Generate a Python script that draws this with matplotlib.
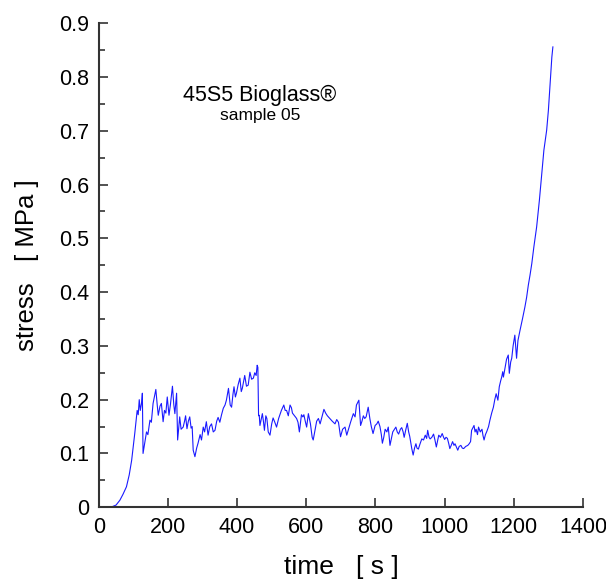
"""Stress vs time trace for a 45S5 Bioglass sample"""
import matplotlib
matplotlib.use('Agg')
import matplotlib.pyplot as plt
from matplotlib.ticker import MultipleLocator, FuncFormatter

plt.rcParams['font.family'] = ['Liberation Sans', 'DejaVu Sans']

# values
time_s = [0, 35, 50, 61, 70, 80, 88, 95, 104, 111, 114, 117, 120, 124, 126, 128, 133, 138, 142,
          148, 152, 157, 165, 169, 172, 177, 181, 186, 190, 194, 198, 203, 207, 213, 217, 220,
          225, 228, 234, 238, 244, 248, 251, 255, 259, 263, 267, 270, 273, 278, 283, 287, 293,
          297, 302, 306, 311, 316, 321, 326, 331, 336, 341, 345, 350, 355, 360, 365, 369, 375,
          380, 384, 388, 391, 395, 398, 403, 408, 412, 415, 419, 422, 427, 432, 437, 442, 447,
          451, 455, 458, 460, 462, 464, 466, 470, 473, 476, 479, 483, 486, 490, 495, 500, 504,
          509, 514, 520, 528, 535, 539, 543, 548, 553, 557, 560, 566, 572, 576, 580, 586, 590,
          593, 597, 601, 606, 612, 617, 620, 625, 630, 635, 640, 646, 651, 656, 661, 668, 675,
          683, 688, 693, 699, 705, 712, 717, 722, 728, 736, 741, 745, 752, 757, 761, 765, 769,
          773, 779, 784, 788, 793, 799, 804, 808, 813, 817, 820, 824, 828, 833, 837, 842, 846,
          850, 855, 859, 863, 867, 872, 876, 880, 883, 888, 892, 896, 899, 905, 909, 913, 917,
          920, 924, 929, 934, 939, 944, 948, 951, 955, 958, 963, 968, 972, 976, 980, 983, 988,
          993, 997, 1000, 1004, 1008, 1012, 1015, 1019, 1023, 1027, 1030, 1034, 1038, 1042,
          1047, 1051, 1055, 1061, 1067, 1071, 1075, 1078, 1085, 1088, 1091, 1095, 1098, 1103,
          1108, 1111, 1114, 1118, 1122, 1127, 1131, 1136, 1141, 1145, 1149, 1154, 1158, 1162,
          1165, 1168, 1170, 1175, 1179, 1184, 1187, 1191, 1194, 1198, 1203, 1208, 1212, 1218,
          1225, 1232, 1237, 1242, 1247, 1252, 1258, 1266, 1274, 1281, 1287, 1295, 1300, 1305,
          1310, 1313]
stress_mpa = [0, 0, 0.004, 0.013, 0.024, 0.038, 0.06, 0.087, 0.137, 0.18, 0.172, 0.2, 0.18, 0.195,
              0.212, 0.10, 0.12, 0.14, 0.135, 0.162, 0.158, 0.193, 0.219, 0.19, 0.171, 0.188,
              0.193, 0.159, 0.18, 0.175, 0.205, 0.171, 0.19, 0.225, 0.19, 0.174, 0.212, 0.125,
              0.168, 0.145, 0.149, 0.16, 0.17, 0.146, 0.16, 0.168, 0.147, 0.15, 0.106, 0.094,
              0.11, 0.119, 0.135, 0.125, 0.149, 0.14, 0.159, 0.134, 0.15, 0.155, 0.14, 0.143,
              0.16, 0.167, 0.158, 0.172, 0.184, 0.19, 0.199, 0.221, 0.19, 0.186, 0.21, 0.224,
              0.205, 0.212, 0.228, 0.24, 0.215, 0.221, 0.235, 0.245, 0.225, 0.227, 0.251, 0.238,
              0.24, 0.25, 0.245, 0.264, 0.26, 0.17, 0.171, 0.152, 0.165, 0.174, 0.16, 0.143,
              0.17, 0.165, 0.14, 0.134, 0.155, 0.166, 0.158, 0.149, 0.165, 0.18, 0.19, 0.18,
              0.18, 0.17, 0.19, 0.185, 0.175, 0.17, 0.165, 0.158, 0.14, 0.172, 0.168, 0.172,
              0.16, 0.149, 0.174, 0.155, 0.13, 0.125, 0.143, 0.16, 0.165, 0.155, 0.17, 0.182,
              0.175, 0.17, 0.165, 0.16, 0.155, 0.163, 0.158, 0.131, 0.145, 0.149, 0.134, 0.145,
              0.158, 0.174, 0.168, 0.19, 0.199, 0.152, 0.16, 0.17, 0.165, 0.168, 0.186, 0.164,
              0.15, 0.137, 0.152, 0.155, 0.16, 0.15, 0.135, 0.119, 0.13, 0.145, 0.14, 0.149,
              0.115, 0.128, 0.14, 0.145, 0.149, 0.14, 0.136, 0.145, 0.148, 0.14, 0.13, 0.145,
              0.156, 0.14, 0.132, 0.109, 0.097, 0.11, 0.118, 0.11, 0.108, 0.118, 0.127, 0.125,
              0.134, 0.128, 0.143, 0.13, 0.127, 0.13, 0.136, 0.125, 0.112, 0.125, 0.134, 0.13,
              0.137, 0.13, 0.126, 0.13, 0.128, 0.118, 0.109, 0.115, 0.122, 0.115, 0.118, 0.112,
              0.106, 0.113, 0.115, 0.11, 0.109, 0.113, 0.115, 0.118, 0.122, 0.143, 0.152, 0.14,
              0.145, 0.135, 0.149, 0.14, 0.145, 0.133, 0.125, 0.135, 0.141, 0.15, 0.162, 0.175,
              0.186, 0.2, 0.211, 0.199, 0.224, 0.235, 0.242, 0.252, 0.242, 0.261, 0.275, 0.283,
              0.249, 0.27, 0.277, 0.3, 0.32, 0.277, 0.31, 0.329, 0.35, 0.372, 0.39, 0.413, 0.432,
              0.453, 0.484, 0.521, 0.571, 0.62, 0.664, 0.701, 0.738, 0.788, 0.837, 0.856]

title = '45S5 Bioglass®'
subtitle = 'sample 05'

fig = plt.figure(figsize=(6.06, 5.81), dpi=100)
ax = fig.add_axes([0.163, 0.127, 0.799, 0.833])

ax.plot(time_s, stress_mpa, color='#1a1aff', lw=0.8)

ax.set_xlim(0, 1400)
ax.set_ylim(0, 0.9)
ax.xaxis.set_major_locator(MultipleLocator(200))
ax.yaxis.set_major_locator(MultipleLocator(0.1))
ax.yaxis.set_minor_locator(MultipleLocator(0.05))
ax.yaxis.set_major_formatter(FuncFormatter(lambda v, p: '0' if abs(v) < 1e-9 else '%.1f' % v))

for side in ('top', 'right'):
    ax.spines[side].set_visible(False)
for side in ('left', 'bottom'):
    ax.spines[side].set_color('#333333')
    ax.spines[side].set_linewidth(1.5)

ax.tick_params(which='major', direction='in', length=6.5, width=1.2, colors='#333333',
               labelcolor='black', labelsize=15.5, pad=7)
ax.tick_params(which='minor', direction='in', length=4.3, width=1.2, colors='#333333')

ax.set_xlabel('time   [ s ]', fontsize=19, labelpad=12)
ax.set_ylabel('stress   [ MPa ]', fontsize=18.5, labelpad=14)

ax.text(466, 0.766, title, ha='center', va='center', fontsize=15.5)
ax.text(466, 0.729, subtitle, ha='center', va='center', fontsize=12.5)

fig.savefig('out.png', dpi=100)
